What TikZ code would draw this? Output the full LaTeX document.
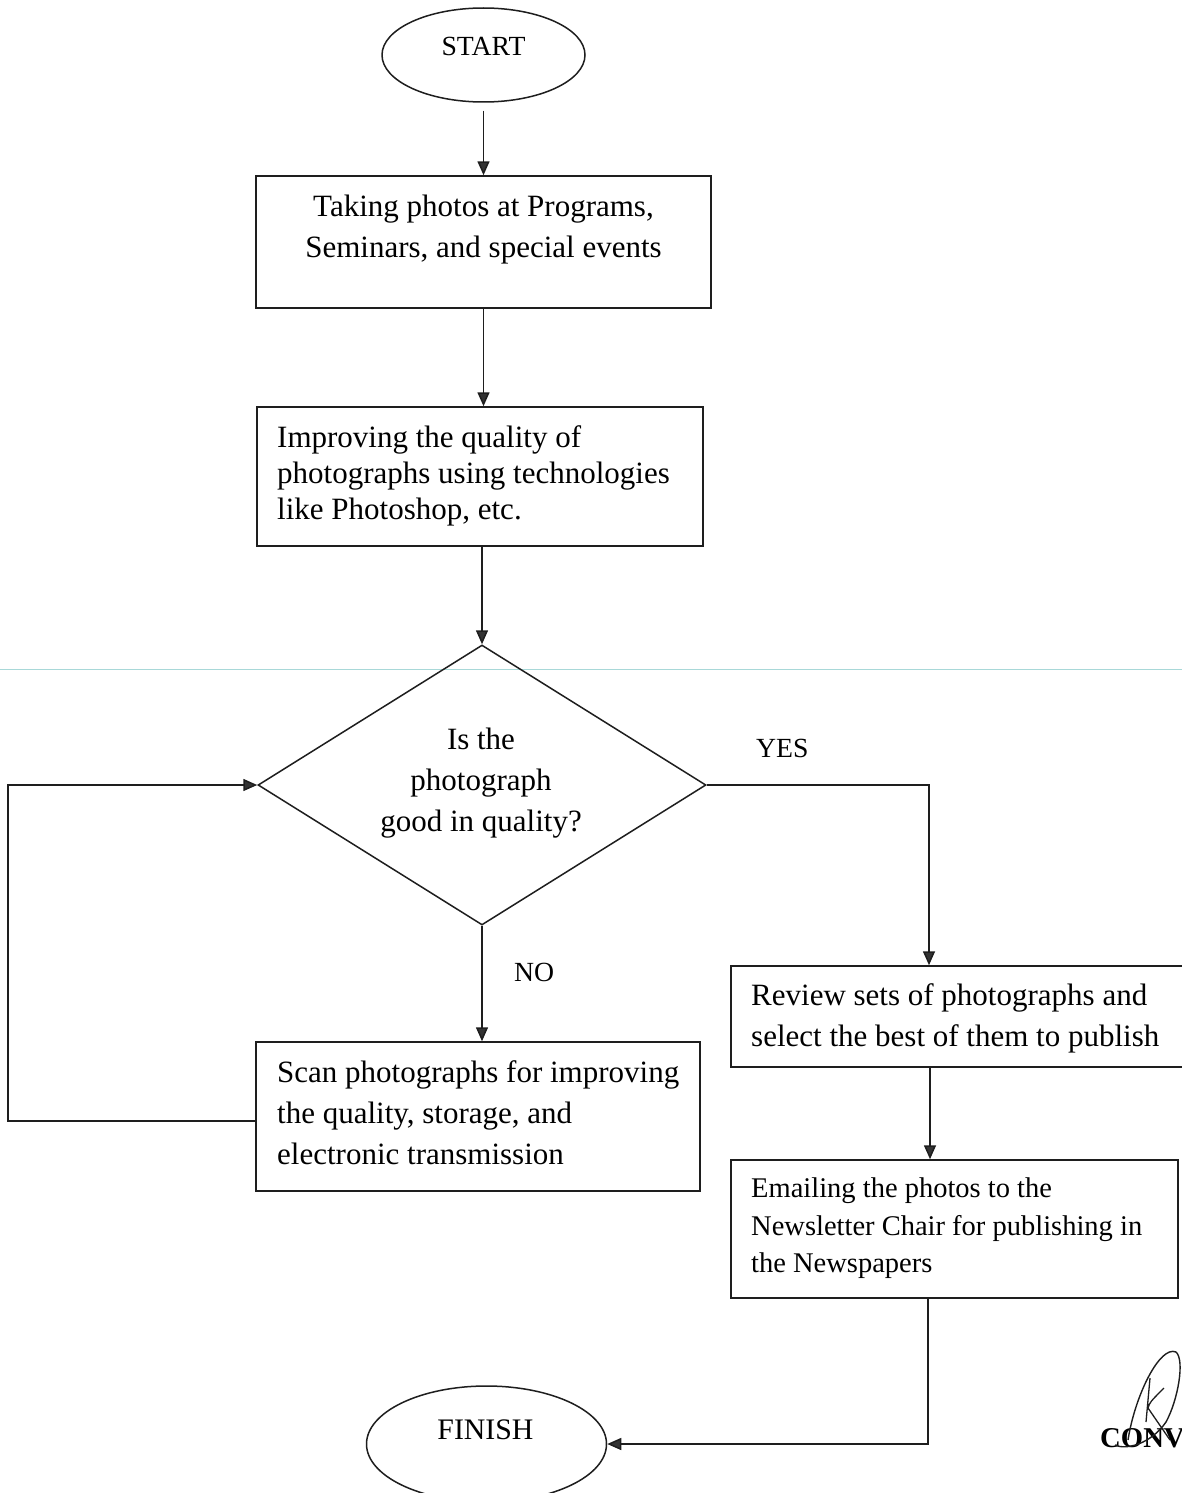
\documentclass[tikz,border=0pt]{standalone}
\usepackage{fontspec}
\setmainfont{Liberation Serif}
\usetikzlibrary{shapes.geometric,arrows.meta}
\definecolor{linec}{HTML}{1E1E1E}
\definecolor{headc}{HTML}{333333}
\definecolor{scanc}{HTML}{A8D8D8}
\begin{document}
\begin{tikzpicture}[x=1pt,y=-1pt,
  shp/.style={draw=linec,line width=1.5pt,inner sep=0pt,text=black},
  boxn/.style={shp,rectangle},
  ell/.style={shp,ellipse},
  dia/.style={shp,diamond},
  txt/.style={inner sep=0pt,text=black,font=\fontsize{31}{41}\selectfont,
    execute at begin node=\strut,execute at end node=\strut},
  txtb/.style={inner sep=0pt,text=black,font=\fontsize{31}{36}\selectfont,
    execute at begin node=\strut,execute at end node=\strut},
  txtc/.style={inner sep=0pt,text=black,font=\fontsize{28.5}{37.5}\selectfont,
    execute at begin node=\strut,execute at end node=\strut},
  lab/.style={inner sep=0pt,text=black,font=\fontsize{27.7}{30}\selectfont,anchor=base},
  conn/.style={draw=linec,line width=1.5pt},
  arr/.style={conn,-{Triangle[length=14pt,width=12pt,fill=headc]}}]

\useasboundingbox (0,0) rectangle (1182,1493);
\fill[white] (0,0) rectangle (1182,1493);

% faint scan line
\draw[scanc,line width=1pt] (0,669) -- (1182,669);

% shapes
\node[ell,minimum width=203pt,minimum height=94pt] (start) at (483.5,55) {};
\node[boxn,minimum width=455pt,minimum height=132pt] (b1) at (483.5,242) {};
\node[boxn,minimum width=446pt,minimum height=139pt] (b2) at (480,476.5) {};
\node[dia,minimum width=448pt,minimum height=280pt] (dec) at (482,785) {};
\node[boxn,minimum width=444pt,minimum height=149pt] (b3) at (478,1116.5) {};
\node[boxn,minimum width=462pt,minimum height=101pt] (b4) at (962,1016.5) {};
\node[boxn,minimum width=447pt,minimum height=138pt] (b5) at (954.5,1229) {};
\node[ell,minimum width=240pt,minimum height=116pt] (fin) at (486.5,1444) {};

% texts
\node[lab] (tstart) at (483.5,56) {START};
\node[txt,align=center] (t1) at (483.5,232) {Taking photos at Programs,\\Seminars, and special events};
\node[txtb,align=left,anchor=west] (t2) at (277,478) {Improving the quality of\\photographs using technologies\\like Photoshop, etc.};
\node[txt,align=center] (td) at (481,786.3) {Is the\\photograph\\good in quality?};
\node[txt,align=left,anchor=west] (t3) at (277,1118.3) {Scan photographs for improving\\the quality, storage, and\\electronic transmission};
\node[txt,align=left,anchor=west] (t4) at (751,1021.3) {Review sets of photographs and\\select the best of them to publish};
\node[txtc,align=left,anchor=west] (t5) at (751,1231) {Emailing the photos to the\\Newsletter Chair for publishing in\\the Newspapers};
\node[lab,font=\fontsize{29.8}{32}\selectfont] (tfin) at (485.5,1439) {FINISH};
\node[lab,anchor=base west] (yes) at (756,757) {YES};
\node[lab,anchor=base west] (no) at (514,981) {NO};
\node[lab,anchor=base west,font=\fontsize{28.7}{30}\bfseries] (stamp) at (1100,1447) {CONV};

% column coordinates
\coordinate (yescol) at (929,0);
\coordinate (col2) at (930,0);
\coordinate (col3) at (928,0);
\coordinate (loopL) at (8,950);

% connectors
\draw[arr,shorten <=8pt] (start.south) -- (b1.north);
\draw[arr] (b1.south) -- (b1.south |- b2.north);
\draw[arr] (b2.south -| dec.north) -- (dec.north);
\draw[arr] (dec.east) -| (yescol |- b4.north);
\draw[arr] (dec.south) -- (dec.south |- b3.north);
\draw[arr] ([yshift=-4.5pt]b3.west) -| (loopL) |- (dec.west);
\draw[arr] (b4.south -| col2) -- (b5.north -| col2);
\draw[arr] (b5.south -| col3) |- (fin.east);

% signature scribble
\draw[linec,line width=1.4pt] (1128,1440) .. controls (1135,1395) and (1160,1345) .. (1176,1352)
  .. controls (1185,1360) and (1178,1400) .. (1166,1422)
  .. controls (1150,1445) and (1125,1450) .. (1115,1445);
\draw[linec,line width=1.3pt] (1150,1378) -- (1146,1422)
  (1164,1388) .. controls (1150,1402) .. (1148,1408) -- (1170,1440);
\end{tikzpicture}
\end{document}
